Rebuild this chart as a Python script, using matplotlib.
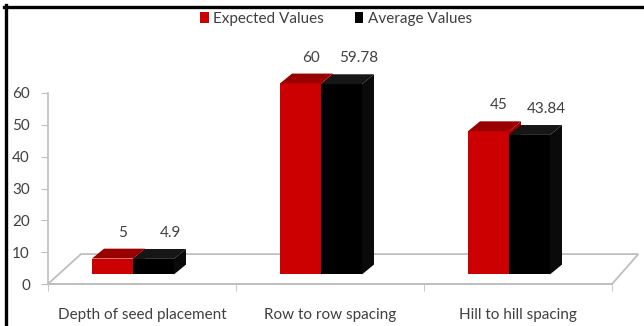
import matplotlib
matplotlib.use("Agg")
import matplotlib.pyplot as plt
from matplotlib.patches import Polygon, Patch
from matplotlib.lines import Line2D

plt.rcParams["font.family"] = ["Lato", "DejaVu Sans"]

# data
categories = ["Depth of seed placement", "Row to row spacing", "Hill to hill spacing"]
expected_values = [5, 60, 45]
average_values = [4.9, 59.78, 43.84]
expected_labels = ["5", "60", "45"]
average_labels = ["4.9", "59.78", "43.84"]
y_ticks = [0, 10, 20, 30, 40, 50, 60]

RED, RED_TOP, RED_SIDE = "#cc0000", "#990000", "#a00000"
BLK, BLK_TOP, BLK_SIDE = "#000000", "#161616", "#0a0a0a"
GRID = "#bfbfbf"
TXT = "#404040"

# fake 3D geometry (category units / value units)
BAR_W = 0.218
RED_OFF = -0.266
DX, DY = 0.064, 3.1
BASE = 3.0
FLOOR_DY = 9.4
FLOOR_DXL, FLOOR_DXR = 0.175, 0.14


def draw_bar(ax, x0, value, front, top, side):
    t = BASE + value
    x1 = x0 + BAR_W
    ax.add_patch(Polygon([(x0, BASE), (x1, BASE), (x1, t), (x0, t)],
                         closed=True, fc=front, ec="none", clip_on=False, zorder=3))
    ax.add_patch(Polygon([(x0, t), (x1, t), (x1 + DX, t + DY), (x0 + DX, t + DY)],
                         closed=True, fc=top, ec="none", clip_on=False, zorder=3))
    ax.add_patch(Polygon([(x1, BASE), (x1 + DX, BASE + DY), (x1 + DX, t + DY), (x1, t)],
                         closed=True, fc=side, ec="none", clip_on=False, zorder=3))
    return t + DY


fig = plt.figure(figsize=(6.44, 3.26), dpi=100)
ax = fig.add_axes([48 / 644, 42 / 326, 564 / 644, 191 / 326])
ax.set_xlim(-0.5, 2.5)
ax.set_ylim(0, 60)

# floor
n = len(categories)
floor = Polygon([(-0.5, 0), (n - 0.5, 0), (n - 0.5 + FLOOR_DXR, FLOOR_DY),
                 (-0.5 + FLOOR_DXL, FLOOR_DY)],
                closed=True, fc="white", ec=GRID, lw=1.3, clip_on=False, zorder=1)
ax.add_patch(floor)

for i in range(n):
    xr = i + RED_OFF
    xb = xr + BAR_W
    top_r = draw_bar(ax, xr, expected_values[i], RED, RED_TOP, RED_SIDE)
    top_b = draw_bar(ax, xb, average_values[i], BLK, BLK_TOP, BLK_SIDE)
    ax.text(xr + BAR_W / 2 + 0.055, top_r + 5, expected_labels[i],
            ha="center", va="center", fontsize=11, color=TXT)
    ax.text(xb + BAR_W / 2 + 0.09, top_b + 5, average_labels[i],
            ha="center", va="center", fontsize=11, color=TXT)

for s in ["top", "right"]:
    ax.spines[s].set_visible(False)
ax.spines["left"].set_bounds(0, 60)
ax.spines["left"].set_color(GRID)
ax.spines["bottom"].set_bounds(-0.5, n - 0.5)
ax.spines["bottom"].set_color(GRID)
ax.spines["left"].set_linewidth(1.2)
ax.spines["bottom"].set_linewidth(1.3)

ax.set_yticks(y_ticks)
ax.tick_params(axis="y", direction="out", length=5, color=GRID, pad=8,
               labelsize=11, labelcolor=TXT)
ax.set_xticks(range(n))
ax.set_xticklabels(categories)
ax.set_xticks([i - 0.5 for i in range(n + 1)], minor=True)
ax.tick_params(axis="x", which="major", length=0, pad=17, labelsize=11, labelcolor=TXT)
ax.tick_params(axis="x", which="minor", direction="out", length=5, color=GRID)

handles = [Patch(fc=RED, ec="none", label="Expected Values"),
           Patch(fc=BLK, ec="none", label="Average Values")]
fig.legend(handles=handles, loc="center", bbox_to_anchor=(0.522, 0.942), ncol=2,
           frameon=False, fontsize=11, handlelength=0.55, handleheight=0.7,
           handletextpad=0.3, columnspacing=2.0, labelcolor=TXT)

# image border (top and left)
fig.add_artist(Line2D([4 / 644, 1], [1 - 6.5 / 326] * 2, color="black", lw=2.4,
                      transform=fig.transFigure))
fig.add_artist(Line2D([5.5 / 644] * 2, [0, 1 - 5 / 326], color="black", lw=2.4,
                      transform=fig.transFigure))

fig.savefig("out.png", dpi=100)
